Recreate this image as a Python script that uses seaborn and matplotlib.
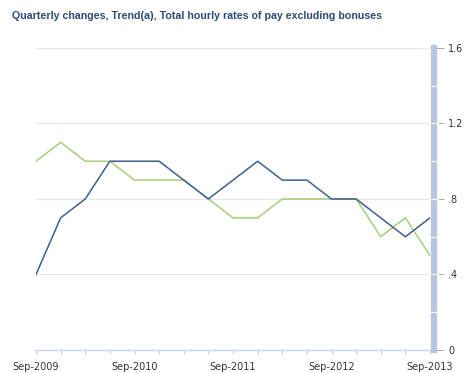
import matplotlib
matplotlib.use("Agg")
from matplotlib import pyplot as plt
import matplotlib.transforms as mtransforms
import pandas as pd
import seaborn as sns

# quarters Sep-2009 .. Sep-2013
quarters = ["Sep-2009", "Dec-2009", "Mar-2010", "Jun-2010",
            "Sep-2010", "Dec-2010", "Mar-2011", "Jun-2011",
            "Sep-2011", "Dec-2011", "Mar-2012", "Jun-2012",
            "Sep-2012", "Dec-2012", "Mar-2013", "Jun-2013", "Sep-2013"]
blue_vals = [0.4, 0.7, 0.8, 1.0, 1.0, 1.0, 0.9, 0.8, 0.9, 1.0, 0.9, 0.9,
             0.8, 0.8, 0.7, 0.6, 0.7]
green_vals = [1.0, 1.1, 1.0, 1.0, 0.9, 0.9, 0.9, 0.8, 0.7, 0.7, 0.8, 0.8,
              0.8, 0.8, 0.6, 0.7, 0.5]
y_ticks = [0, 0.4, 0.8, 1.2, 1.6]
y_labels = ["0", ".4", ".8", "1.2", "1.6"]

df = pd.DataFrame({"q": range(len(quarters)), "blue": blue_vals, "green": green_vals})

sns.set_style("white")
fig = plt.figure(figsize=(4.7, 3.73), dpi=100)
ax = fig.add_axes([0.0766, 0.0617, 0.8383, 0.8097])

# grid lines
for v in y_ticks[1:]:
    ax.axhline(v, color="#e6e6e6", lw=0.8, zorder=0)

sns.lineplot(data=df, x="q", y="green", color="#a3cf7a", lw=1.1, ax=ax)
sns.lineplot(data=df, x="q", y="blue", color="#3d5f8f", lw=1.1, ax=ax)

ax.set_xlim(0, len(quarters) - 1)
ax.set_ylim(0, 1.6)
ax.set_xlabel("")
ax.set_ylabel("")

ax.set_xticks(range(len(quarters)))
ax.set_xticklabels([q if q.startswith("Sep") else "" for q in quarters])
ax.tick_params(axis="x", bottom=True, length=3, width=0.8, color="#c8d2de",
               pad=6, labelsize=7, labelcolor="#333333")

ax.yaxis.tick_right()
ax.set_yticks(y_ticks)
ax.set_yticklabels(y_labels)
ax.tick_params(axis="y", right=True, left=False, length=7, width=0.6,
               color="#999999", pad=3, labelsize=7, labelcolor="#333333")

for s in ["top", "left"]:
    ax.spines[s].set_visible(False)
ax.spines["bottom"].set_color("#c8d2de")
ax.spines["bottom"].set_linewidth(1.0)
ax.spines["right"].set_color("#b6c7dd")
ax.spines["right"].set_linewidth(4.5)
ax.spines["right"].set_position(("outward", 3))
ax.spines["right"].set_zorder(3)

# white notches on the right bar
trans = mtransforms.blended_transform_factory(ax.transAxes, ax.transData)
for v in [0.2, 0.4, 0.6, 0.8, 1.0, 1.2, 1.4]:
    ax.plot([1.003, 1.02], [v, v], transform=trans, color="white",
            lw=0.8, clip_on=False, zorder=5)

fig.text(0.026, 0.97, "Quarterly changes, Trend(a), Total hourly rates of pay excluding bonuses",
         fontsize=7.7, fontweight="bold", color="#2e4b74", va="top", ha="left",
         family="Liberation Sans")

fig.savefig("out.png", dpi=100)
